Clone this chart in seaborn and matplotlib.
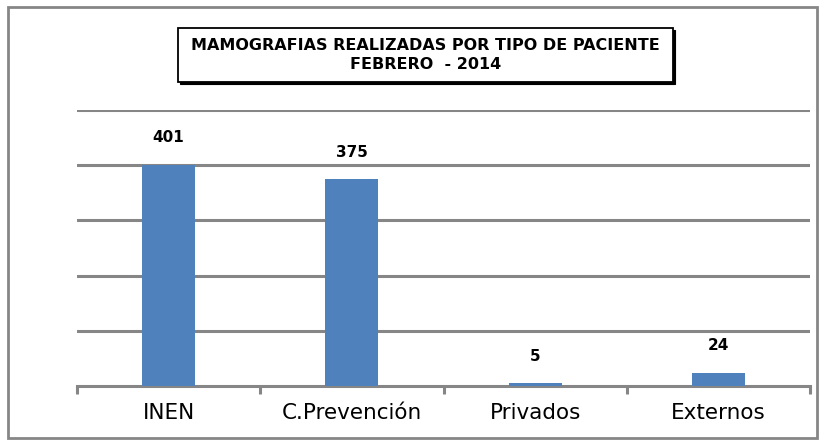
import matplotlib
matplotlib.use("Agg")
import matplotlib.pyplot as plt
from matplotlib.patches import Rectangle
import pandas as pd
import seaborn as sns

# datos del gráfico
categorias = ["INEN", "C.Prevención", "Privados", "Externos"]
mamografias = [401, 375, 5, 24]
titulo = "MAMOGRAFIAS REALIZADAS POR TIPO DE PACIENTE\nFEBRERO  - 2014"

df = pd.DataFrame({"tipo": categorias, "n": mamografias})

sns.set_style("white")
plt.rcParams["font.family"] = ["DejaVu Sans"]
plt.rcParams["text.color"] = "black"
plt.rcParams["xtick.color"] = "black"

W, H = 825, 446
fig = plt.figure(figsize=(W / 100, H / 100), dpi=100)
ax = fig.add_axes([77 / W, 1 - 386 / H, (810 - 77) / W, (386 - 110) / H])

sns.barplot(data=df, x="tipo", y="n", color="#4f81bd", width=0.29,
            saturation=1, linewidth=0, ax=ax, zorder=3)

ax.set_ylim(0, 500)
ax.set_xlim(-0.5, len(categorias) - 0.5)
ax.set_yticks([100, 200, 300, 400, 500])
ax.set_yticklabels([])
ax.yaxis.grid(True, color="#868686", linewidth=2.2)
ax.set_axisbelow(True)
ax.tick_params(axis="y", length=0, left=False)
ax.set_xlabel("")
ax.set_ylabel("")

for s in ["top", "right", "left"]:
    ax.spines[s].set_visible(False)
ax.spines["bottom"].set_color("#868686")
ax.spines["bottom"].set_linewidth(2.2)

# marcas en los límites de categoría, etiquetas centradas
ax.set_xticks([i - 0.5 for i in range(len(categorias) + 1)], minor=False)
ax.set_xticklabels([])
ax.tick_params(axis="x", which="major", bottom=True, direction="out",
               length=6, width=2.2, color="#868686")
ax.set_xticks(range(len(categorias)), minor=True)
ax.set_xticklabels(categorias, minor=True, fontsize=15.5, color="black")
ax.tick_params(axis="x", which="minor", bottom=True, length=0, pad=12)

for cont in ax.containers:
    ax.bar_label(cont, labels=[str(v) for v in mamografias], padding=14,
                 fontsize=11, fontweight="bold", color="black")

# marco exterior
fig.patches.append(Rectangle((8 / W, 1 - 438 / H), (817 - 8) / W, (438 - 7) / H,
                             transform=fig.transFigure, fill=False,
                             edgecolor="#868686", linewidth=2))

# caja del título con sombra
x0, y0, x1, y1 = 178, 28, 673, 82
fig.patches.append(Rectangle(((x0 + 2) / W, 1 - (y1 + 2) / H), (x1 - x0) / W, (y1 - y0) / H,
                             transform=fig.transFigure, facecolor="black",
                             edgecolor="black", linewidth=0.8))
fig.patches.append(Rectangle((x0 / W, 1 - y1 / H), (x1 - x0) / W, (y1 - y0) / H,
                             transform=fig.transFigure, facecolor="white",
                             edgecolor="black", linewidth=1.3))
fig.text((x0 + x1) / 2 / W, 1 - (y0 + y1) / 2 / H, titulo, ha="center", va="center",
         fontsize=11.5, fontweight="bold", linespacing=1.3, color="black")

fig.savefig("out.png", dpi=100)
